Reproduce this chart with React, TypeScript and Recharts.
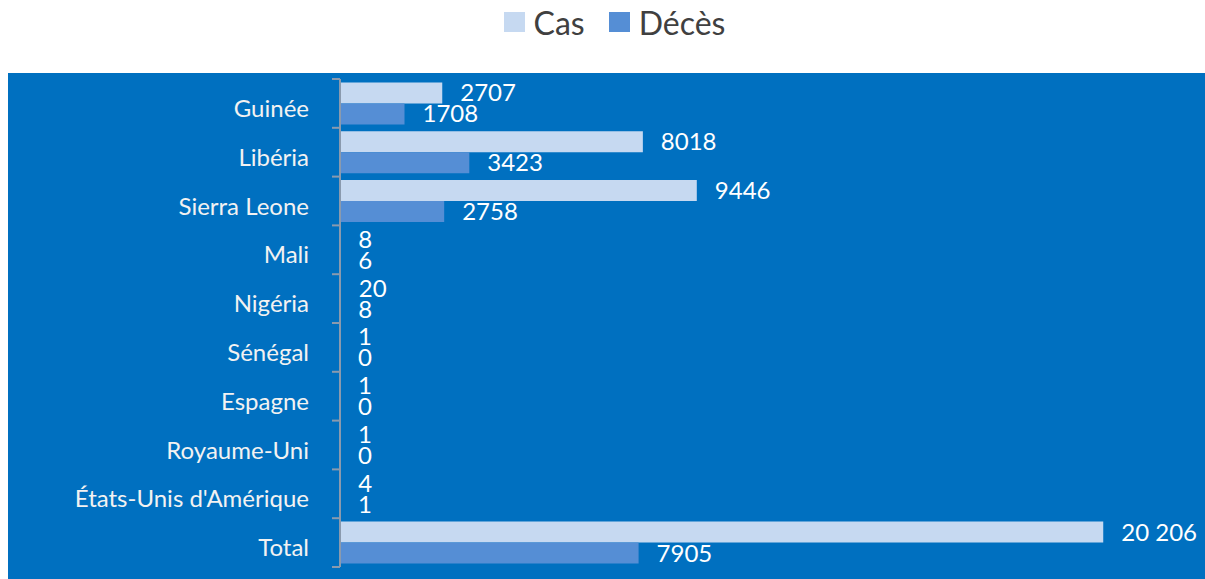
import React from 'react';
import { BarChart, Bar, XAxis, YAxis, Legend, LabelList } from 'recharts';

const categories = ['Guinée', 'Libéria', 'Sierra Leone', 'Mali', 'Nigéria', 'Sénégal', 'Espagne', 'Royaume-Uni', "États-Unis d'Amérique", 'Total'];
const casValues = [2707, 8018, 9446, 8, 20, 1, 1, 1, 4, 20206];
const decesValues = [1708, 3423, 2758, 6, 8, 0, 0, 0, 1, 7905];
const seriesNames = ['Cas', 'Décès'];
const seriesColors = ['#C6D9F1', '#558ED5'];

const data = categories.map((name, i) => ({ name, cas: casValues[i], deces: decesValues[i] }));

const FONT = 'Lato, "Noto Sans", sans-serif';
const AXIS_COLOR = '#8A9AAE';
const BAND = 48.8;

const fmt = (v: any) => {
  const n = Number(v);
  if (n >= 10000) {
    const s = String(n);
    return s.slice(0, s.length - 3) + ' ' + s.slice(s.length - 3);
  }
  return String(n);
};

const CategoryTick = (props: any) => {
  const { x, y, payload, index } = props;
  return (
    <g>
      <text x={x - 31} y={y + 4} textAnchor="end" dominantBaseline="central" fill="#F2F2F2" fontSize={24} fontFamily={FONT}>
        {payload.value}
      </text>
      <line x1={x - 8} x2={x} y1={y - BAND / 2} y2={y - BAND / 2} stroke={AXIS_COLOR} strokeWidth={2} />
      {index === categories.length - 1 && (
        <line x1={x - 8} x2={x} y1={y + BAND / 2} y2={y + BAND / 2} stroke={AXIS_COLOR} strokeWidth={2} />
      )}
    </g>
  );
};

const LegendContent = () => (
  <div style={{ display: 'flex', justifyContent: 'center', alignItems: 'center', height: 30, marginTop: -7, paddingLeft: 16, fontFamily: FONT }}>
    {seriesNames.map((n, i) => (
      <div key={n} style={{ display: 'flex', alignItems: 'center', marginRight: i === 0 ? 24 : 0 }}>
        <div style={{ width: 21, height: 20, background: seriesColors[i], marginRight: 9 }} />
        <span style={{ fontSize: 32, color: '#404040' }}>{n}</span>
      </div>
    ))}
  </div>
);

export default function App() {
  return (
    <div style={{ position: 'absolute', left: 8, top: 8, width: 1197, height: 571, background: 'linear-gradient(to bottom, #ffffff 0px, #ffffff 65px, #0070C0 65px, #0070C0 100%)' }}>
      <BarChart
        width={1197}
        height={571}
        data={data}
        layout="vertical"
        margin={{ top: 6, right: 0, left: 0, bottom: 12 }}
        barCategoryGap="7%"
        barGap={0}
      >
        <Legend verticalAlign="top" height={65} content={<LegendContent />} />
        <XAxis type="number" hide domain={[0, 22900]} />
        <YAxis
          type="category"
          dataKey="name"
          width={332}
          axisLine={{ stroke: AXIS_COLOR, strokeWidth: 2 }}
          tickLine={false}
          tickSize={0}
          tickMargin={0}
          tick={<CategoryTick />}
          interval={0}
        />
        <Bar dataKey="cas" name={seriesNames[0]} fill={seriesColors[0]} minPointSize={0.01} isAnimationActive={false}>
          <LabelList dataKey="cas" position="right" offset={18} fill="#FFFFFF" fontSize={24} fontFamily={FONT} formatter={fmt} />
        </Bar>
        <Bar dataKey="deces" name={seriesNames[1]} fill={seriesColors[1]} minPointSize={0.01} isAnimationActive={false}>
          <LabelList dataKey="deces" position="right" offset={18} fill="#FFFFFF" fontSize={24} fontFamily={FONT} formatter={fmt} />
        </Bar>
      </BarChart>
    </div>
  );
}
